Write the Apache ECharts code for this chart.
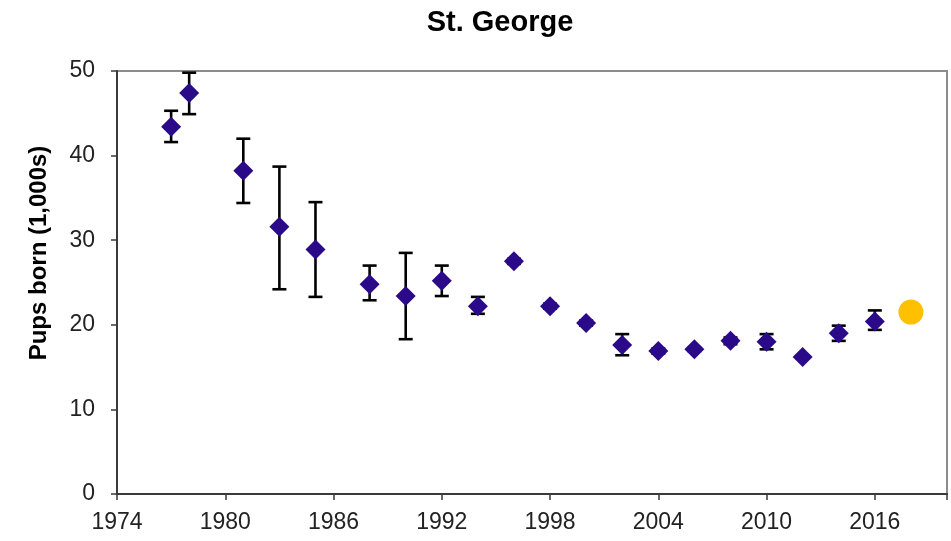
<!DOCTYPE html>
<html>
<head>
<meta charset="utf-8">
<script src="https://cdn.jsdelivr.net/npm/echarts@6/dist/echarts.min.js"></script>
<style>
  html, body { margin: 0; padding: 0; background: #fff; }
  #chart { width: 951px; height: 541px; }
</style>
</head>
<body>
<div id="chart"></div>
<script>
// Survey years and pup estimates (thousands) with error bar limits
const years   = [1977, 1978, 1981, 1983, 1985, 1988, 1990, 1992, 1994, 1996, 1998, 2000, 2002, 2004, 2006, 2008, 2010, 2012, 2014, 2016];
const pups    = [43.4, 47.4, 38.2, 31.6, 28.9, 24.8, 23.4, 25.2, 22.2, 27.5, 22.2, 20.2, 17.6, 16.9, 17.1, 18.1, 18.0, 16.2, 19.0, 20.4];
const errLow  = [41.6, 44.9, 34.4, 24.2, 23.3, 22.9, 18.3, 23.4, 21.3, 27.2, 21.9, 19.9, 16.4, 16.6, 16.9, 17.7, 17.1, 16.0, 18.1, 19.4];
const errHigh = [45.3, 49.8, 42.0, 38.7, 34.5, 27.0, 28.5, 27.0, 23.3, 27.8, 22.5, 20.5, 18.9, 17.2, 17.3, 18.5, 18.9, 16.4, 19.9, 21.7];

// Latest estimate, drawn as a highlighted point
const latestYear = [2018];
const latestPups = [21.5];

const xTicks = { min: 1974, max: 2020, interval: 6 };
const yTicks = { min: 0, max: 50, interval: 10 };

const font = 'Liberation Sans, Arial, sans-serif';

const chart = echarts.init(document.getElementById('chart'), null, { renderer: 'canvas' });

const errorData = years.map((y, i) => [y, errLow[i], errHigh[i]]);

chart.setOption({
  animation: false,
  backgroundColor: '#ffffff',
  title: {
    text: 'St. George',
    left: 495,
    top: 3,
    textAlign: 'center',
    textStyle: { fontFamily: font, fontSize: 29, fontWeight: 'bold', color: '#000' }
  },
  graphic: [{
    type: 'text',
    x: 39,
    y: 253,
    rotation: Math.PI / 2,
    style: {
      text: 'Pups born (1,000s)',
      font: 'bold 24px ' + font,
      fill: '#000',
      align: 'center',
      verticalAlign: 'middle'
    }
  }],
  grid: {
    left: 117, right: 4, top: 71, bottom: 47,
    show: true,
    borderColor: '#8c8c8c',
    borderWidth: 2
  },
  xAxis: {
    type: 'value',
    min: xTicks.min, max: xTicks.max, interval: xTicks.interval,
    splitLine: { show: false },
    axisLine: { lineStyle: { color: '#3a3a3a', width: 2 } },
    axisTick: { inside: false, length: 6, lineStyle: { color: '#3a3a3a', width: 1.5 } },
    axisLabel: {
      margin: 17,
      fontFamily: font, fontSize: 23, color: '#222',
      formatter: v => (v >= xTicks.max ? '' : String(v))
    }
  },
  yAxis: {
    type: 'value',
    min: yTicks.min, max: yTicks.max, interval: yTicks.interval,
    splitLine: { show: false },
    axisLine: { show: true, lineStyle: { color: '#3a3a3a', width: 2 } },
    axisTick: { show: true, inside: false, length: 6, lineStyle: { color: '#3a3a3a', width: 1.5 } },
    axisLabel: { margin: 22, fontFamily: font, fontSize: 23, color: '#222' }
  },
  series: [
    {
      type: 'custom',
      name: 'error',
      z: 1,
      data: errorData,
      renderItem: (params, api) => {
        const x = api.value(0);
        const lo = api.coord([x, api.value(1)]);
        const hi = api.coord([x, api.value(2)]);
        const cap = 7;
        const style = { stroke: '#000', lineWidth: 2.6 };
        return {
          type: 'group',
          children: [
            { type: 'line', shape: { x1: lo[0], y1: lo[1], x2: hi[0], y2: hi[1] }, style },
            { type: 'line', shape: { x1: hi[0] - cap, y1: hi[1], x2: hi[0] + cap, y2: hi[1] }, style },
            { type: 'line', shape: { x1: lo[0] - cap, y1: lo[1], x2: lo[0] + cap, y2: lo[1] }, style }
          ]
        };
      }
    },
    {
      type: 'scatter',
      z: 3,
      symbol: 'diamond',
      symbolSize: [20, 20],
      itemStyle: { color: '#2B0A8A', opacity: 1 },
      data: years.map((y, i) => [y, pups[i]])
    },
    {
      type: 'scatter',
      z: 3,
      symbol: 'circle',
      symbolSize: 25,
      itemStyle: { color: '#FFC000', opacity: 1 },
      data: latestYear.map((y, i) => [y, latestPups[i]])
    }
  ]
});
</script>
</body>
</html>
